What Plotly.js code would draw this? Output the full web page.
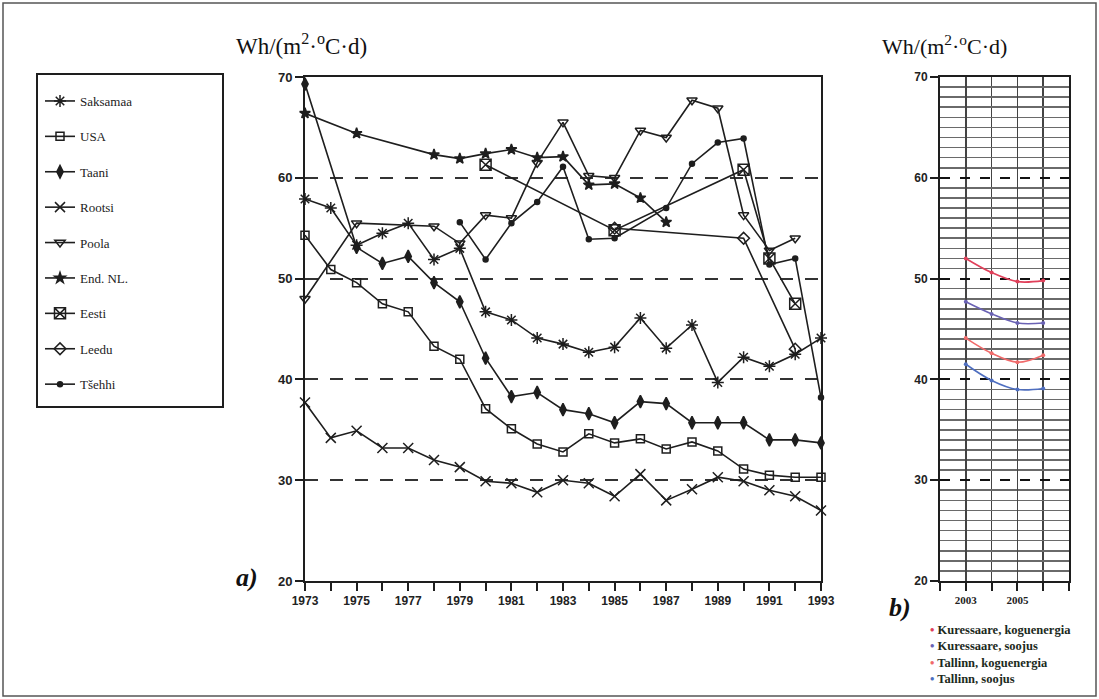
<!DOCTYPE html>
<html><head><meta charset="utf-8">
<script src="https://cdn.plot.ly/plotly-3.0.1.min.js"></script>
<style>body{margin:0;background:#fff}#chart{width:1099px;height:699px}</style>
</head><body><div id="chart"></div>
<script>
// ---- data (a) ----
const years = [1973,1974,1975,1976,1977,1978,1979,1980,1981,1982,1983,1984,1985,1986,1987,1988,1989,1990,1991,1992,1993];
const saksamaa = [57.9,57.0,53.3,54.5,55.5,51.9,53.0,46.7,45.9,44.1,43.5,42.7,43.2,46.1,43.1,45.4,39.7,42.2,41.3,42.5,44.1];
const usa      = [54.3,50.9,49.6,47.5,46.7,43.3,42.0,37.1,35.1,33.6,32.8,34.6,33.7,34.1,33.1,33.8,32.9,31.1,30.5,30.3,30.3];
const taani    = [69.3,null,53.1,51.5,52.2,49.6,47.7,42.1,38.3,38.7,37.0,36.6,35.7,37.8,37.6,35.7,35.7,35.7,34.0,34.0,33.7];
const rootsi   = [37.7,34.2,34.9,33.2,33.2,32.0,31.3,29.9,29.7,28.8,30.0,29.7,28.4,30.6,28.0,29.1,30.3,29.9,29.0,28.4,27.0];
const poola    = [48.0,null,55.5,null,null,55.2,53.5,56.3,56.0,61.5,65.5,60.2,60.0,64.7,64.0,67.7,66.9,56.3,52.8,54.0,null];
const endNL    = [66.4,null,64.4,null,null,62.3,61.9,62.4,62.8,62.0,62.1,59.3,59.4,58.0,55.6,null,null,null,null,null,null];
const eesti    = [null,null,null,null,null,null,null,61.3,null,null,null,null,54.8,null,null,null,null,60.8,52.0,47.5,null];
const leedu    = [null,null,null,null,null,null,null,null,null,null,null,null,55.0,null,null,null,null,54.0,null,43.0,null];
const tsehhi   = [null,null,null,null,null,null,55.6,51.9,55.5,57.6,61.1,53.9,54.0,null,57.0,61.4,63.5,63.9,51.4,52.0,38.2];
const seriesNames = ["Saksamaa","USA","Taani","Rootsi","Poola","End. NL.","Eesti","Leedu","Tšehhi"];

// ---- data (b) ----
const yearsB = [2003,2004,2005,2006];
const kurKogu = [52.0,50.6,49.7,49.8];
const kurSoo  = [47.7,46.5,45.6,45.6];
const talKogu = [44.1,42.6,41.7,42.4];
const talSoo  = [41.5,39.9,39.0,39.1];
const namesB = ["Kuressaare, koguenergia","Kuressaare, soojus","Tallinn, koguenergia","Tallinn, soojus"];
const colorsB = ["#e0405a","#6a62b4","#f06a6a","#4f6fc0"];

const W=1099,H=699;
const px=x=>x/W, py=y=>1-y/H;
const ink='#1e1e1e';

const seriesVals=[saksamaa,usa,taani,rootsi,poola,endNL,eesti,leedu,tsehhi];
const symbols=['asterisk-open','square-open','diamond-tall','x-thin-open','triangle-down-open','star','square-x-open','diamond-open','circle'];
const sizes=[10,8,9,10,9,8,11,9,5];

const traces=[];
seriesVals.forEach((v,i)=>{
  traces.push({
    x:years, y:v, type:'scatter', mode:'lines+markers', name:seriesNames[i],
    legendgroup:'g'+i, connectgaps:true, cliponaxis:false,
    line:{color:ink,width:1.6},
    marker:{symbol:symbols[i],size:sizes[i],color:ink,line:{color:ink,width:1.5}},
    xaxis:'x', yaxis:'y', showlegend:true
  });
});
[kurKogu,kurSoo,talKogu,talSoo].forEach((v,i)=>{
  traces.push({
    x:yearsB, y:v, type:'scatter', mode:'lines+markers', name:namesB[i],
    line:{color:colorsB[i],width:1.6,shape:'spline'}, marker:{size:4,color:colorsB[i]},
    xaxis:'x2', yaxis:'y3', showlegend:false, cliponaxis:false
  });
});

const yDom=[py(581),py(77)];
const tickFontSans={family:'Liberation Sans, Arial, sans-serif',size:13,color:'#222',weight:'bold'};
const layout={
  width:W,height:H,margin:{l:0,r:0,t:0,b:0},
  paper_bgcolor:'white',plot_bgcolor:'white',showlegend:true,
  xaxis:{domain:[px(305),px(821)],range:[1973,1993],tick0:1973,dtick:2,ticks:'outside',ticklen:8,tickwidth:2,tickcolor:ink,
    showline:true,linewidth:2,linecolor:ink,mirror:true,showgrid:false,zeroline:false,anchor:'y',
    tickfont:{family:'Liberation Sans, Arial, sans-serif',size:12,color:'#222',weight:'bold'},
    minor:{dtick:1,ticks:'outside',ticklen:8,tickwidth:2,tickcolor:ink,showgrid:false}},
  yaxis:{domain:yDom,range:[20,70],dtick:10,ticks:'outside',ticklen:8,tickwidth:2,tickcolor:ink,
    showline:true,linewidth:2,linecolor:ink,mirror:true,showgrid:true,gridcolor:'#333',gridwidth:2,griddash:'13px,12px',
    zeroline:false,anchor:'x',tickfont:tickFontSans},
  yaxis2:{domain:yDom,range:[20,70],dtick:10,overlaying:'y',side:'right',anchor:'x',ticks:'outside',ticklen:8,tickwidth:2,tickcolor:ink,
    showline:true,linewidth:2,linecolor:ink,showgrid:false,zeroline:false,tickfont:tickFontSans},
  xaxis2:{domain:[px(940),px(1069)],range:[2002,2007],tickvals:[2003,2005],ticks:'outside',ticklen:8,tickwidth:2,tickcolor:ink,
    showline:true,linewidth:2,linecolor:ink,mirror:true,showgrid:true,gridcolor:'#444',gridwidth:1.5,zeroline:false,anchor:'y3',
    tickfont:{family:'Liberation Serif, serif',size:11,color:'#222',weight:'bold'},
    minor:{dtick:1,tick0:2002,ticks:'outside',ticklen:8,tickwidth:2,tickcolor:ink,showgrid:true,gridcolor:'#444',gridwidth:1.5,griddash:'solid'}},
  yaxis3:{domain:yDom,range:[20,70],dtick:10,ticks:'outside',ticklen:8,tickwidth:2,tickcolor:ink,
    showline:true,linewidth:2,linecolor:ink,mirror:true,showgrid:true,gridcolor:'#111',gridwidth:2,griddash:'10px,10px',
    zeroline:false,anchor:'x2',tickfont:{family:'Liberation Sans, Arial, sans-serif',size:12,color:'#222',weight:'bold'},
    minor:{dtick:1,showgrid:true,gridcolor:'#6a6a6a',gridwidth:1.6,griddash:'solid'}},
  legend:{x:px(40),y:py(86),xanchor:'left',yanchor:'top',borderwidth:0,bgcolor:'rgba(0,0,0,0)',
    font:{family:'Liberation Serif, serif',size:13,color:'#222'},traceorder:'grouped',tracegroupgap:15.5,
    entrywidth:140,entrywidthmode:'pixels',itemclick:false},
  annotations:[
    {xref:'paper',yref:'paper',x:px(301),y:py(45),xanchor:'center',yanchor:'middle',text:'Wh/(m<sup>2</sup>·<sup>o</sup>C·d)',showarrow:false,
     font:{family:'Liberation Serif, serif',size:23,color:'#111'}},
    {xref:'paper',yref:'paper',x:px(944),y:py(45),xanchor:'center',yanchor:'middle',text:'Wh/(m<sup>2</sup>·<sup>o</sup>C·d)',showarrow:false,
     font:{family:'Liberation Serif, serif',size:22,color:'#111'}},
    {xref:'paper',yref:'paper',x:px(247),y:py(577),xanchor:'center',yanchor:'middle',text:'<b><i>a)</i></b>',showarrow:false,
     font:{family:'Liberation Serif, serif',size:26,color:'#111'}},
    {xref:'paper',yref:'paper',x:px(900),y:py(607),xanchor:'center',yanchor:'middle',text:'<b><i>b)</i></b>',showarrow:false,
     font:{family:'Liberation Serif, serif',size:26,color:'#111'}},
    {xref:'paper',yref:'paper',x:px(928),y:py(621),xanchor:'left',yanchor:'top',align:'left',showarrow:false,
     text:namesB.map((n,i)=>'<span style="color:'+colorsB[i]+'">•</span> '+n).join('<br>'),
     font:{family:'Liberation Serif, serif',size:12.5,color:'#1c2a1c',weight:'bold'}}
  ],
  shapes:[
    {type:'rect',xref:'paper',yref:'paper',x0:px(3),x1:px(1096),y0:py(3),y1:py(696),line:{color:'#555',width:1.5}},
    {type:'rect',xref:'paper',yref:'paper',x0:px(37),x1:px(223),y0:py(74),y1:py(407),line:{color:ink,width:2}}
  ]
};
Plotly.newPlot('chart',traces,layout,{displayModeBar:false,staticPlot:true});
</script></body></html>
